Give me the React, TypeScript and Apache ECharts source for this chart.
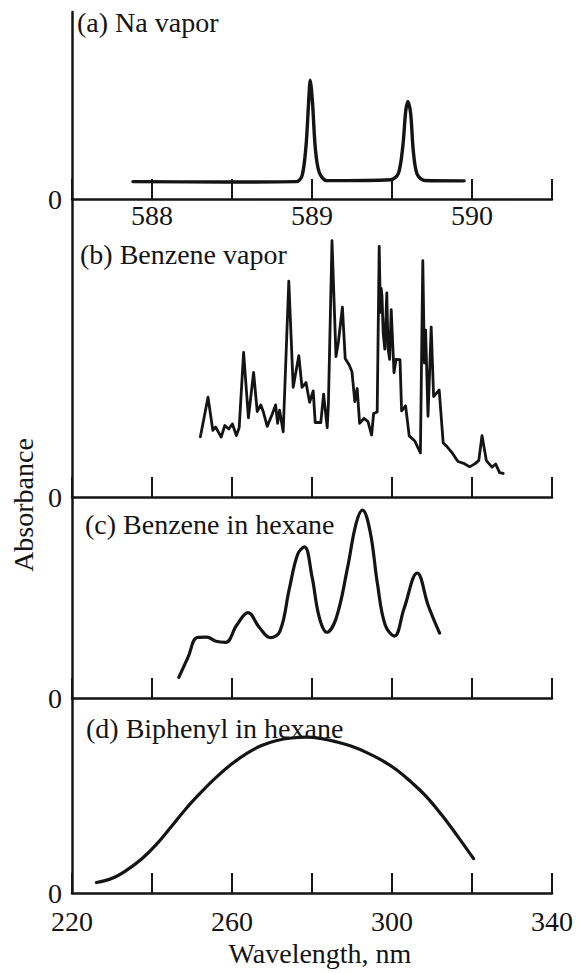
import React, { useEffect, useRef } from "react";
import * as echarts from "echarts";

// (a) Na vapor, wavelength in nm
const naWavelength = [587.881, 588.458, 588.904, 588.939, 588.963, 588.979, 588.989, 589.003, 589.021, 589.045, 589.092, 589.492, 589.539, 589.567, 589.586, 589.6, 589.617, 589.633, 589.657, 589.704, 589.951];
const naAbsorbance = [0.093, 0.091, 0.093, 0.128, 0.288, 0.519, 0.635, 0.518, 0.268, 0.143, 0.098, 0.103, 0.135, 0.277, 0.472, 0.522, 0.454, 0.258, 0.133, 0.099, 0.097];

// (b) Benzene vapor
const vaporWavelength = [252.1, 254.0, 255.2, 255.9, 257.3, 258.2, 259.2, 260.1, 261.1, 261.8, 262.9, 264.1, 265.4, 266.3, 267.2, 267.8, 268.8, 270.0, 270.9, 271.4, 271.9, 272.8, 274.2, 275.3, 276.7, 277.5, 278.5, 279.4, 280.3, 280.8, 282.2, 282.9, 283.8, 284.1, 285.0, 286.0, 286.6, 287.6, 288.3, 289.3, 290.0, 290.7, 291.3, 291.9, 293.0, 294.0, 294.9, 295.4, 296.3, 296.8, 297.1, 297.3, 297.5, 297.8, 298.2, 298.7, 299.0, 299.4, 299.8, 300.5, 301.0, 302.0, 302.4, 303.4, 304.3, 305.7, 307.1, 307.7, 308.1, 308.4, 309.0, 309.8, 310.4, 311.8, 312.8, 313.7, 315.1, 316.5, 317.9, 319.4, 320.8, 321.7, 322.5, 323.6, 325.0, 325.9, 326.9, 327.8];
const vaporAbsorbance = [0.202, 0.335, 0.224, 0.235, 0.201, 0.24, 0.228, 0.245, 0.206, 0.233, 0.485, 0.266, 0.418, 0.287, 0.309, 0.287, 0.237, 0.276, 0.309, 0.247, 0.291, 0.219, 0.724, 0.368, 0.474, 0.368, 0.384, 0.318, 0.356, 0.25, 0.25, 0.345, 0.233, 0.311, 0.86, 0.471, 0.521, 0.637, 0.465, 0.443, 0.42, 0.32, 0.364, 0.247, 0.264, 0.253, 0.208, 0.28, 0.285, 0.841, 0.62, 0.7, 0.674, 0.55, 0.496, 0.685, 0.5, 0.462, 0.629, 0.417, 0.462, 0.461, 0.289, 0.306, 0.205, 0.188, 0.148, 0.793, 0.45, 0.56, 0.271, 0.57, 0.337, 0.359, 0.181, 0.17, 0.147, 0.119, 0.113, 0.101, 0.112, 0.123, 0.206, 0.122, 0.1, 0.111, 0.082, 0.079];

// (c) Benzene in hexane
const hexaneWavelength = [246.7, 249.0, 251.3, 253.7, 256.0, 258.4, 261.2, 264.0, 266.8, 269.6, 272.0, 274.3, 276.4, 278.1, 280.0, 281.8, 283.7, 286.1, 288.9, 291.0, 292.6, 294.5, 296.4, 298.3, 300.6, 303.0, 306.3, 309.1, 311.9];
const hexaneAbsorbance = [0.103, 0.202, 0.301, 0.303, 0.282, 0.277, 0.363, 0.425, 0.352, 0.3, 0.333, 0.54, 0.714, 0.752, 0.604, 0.403, 0.327, 0.401, 0.65, 0.866, 0.935, 0.831, 0.563, 0.363, 0.308, 0.444, 0.622, 0.458, 0.323];

// (d) Biphenyl in hexane
const biphenylWavelength = [226.1, 229.9, 233.6, 237.4, 241.1, 244.9, 248.6, 252.4, 256.1, 259.9, 263.6, 267.4, 271.2, 274.9, 278.6, 282.4, 286.1, 289.9, 293.7, 297.4, 301.2, 304.9, 308.7, 312.4, 316.2, 320.4];
const biphenylAbsorbance = [0.054, 0.074, 0.116, 0.174, 0.249, 0.342, 0.435, 0.519, 0.594, 0.661, 0.715, 0.756, 0.782, 0.795, 0.799, 0.792, 0.775, 0.752, 0.72, 0.681, 0.631, 0.567, 0.492, 0.401, 0.297, 0.176];

const panelTitles = ["(a) Na vapor", "(b) Benzene vapor", "(c) Benzene in hexane", "(d) Biphenyl in hexane"];
const naTickLabels = [588, 589, 590];
const uvTickLabels = [220, 260, 300, 340];

const FONT = "'Liberation Serif', 'Times New Roman', serif";
const INK = "#141414";

const zip = (xs: number[], ys: number[]) => xs.map((x, i) => [x, ys[i]]);

export default function App() {
  const ref = useRef<HTMLDivElement>(null);

  useEffect(() => {
    if (!ref.current) return;
    const chart = echarts.init(ref.current, null, { renderer: "svg" });

    const grids = [
      { left: 72, top: 12, width: 480, height: 187 },
      { left: 72, top: 199, width: 480, height: 298 },
      { left: 72, top: 497, width: 480, height: 201 },
      { left: 72, top: 698, width: 480, height: 195 },
    ];

    const axisLine = { show: true, lineStyle: { color: INK, width: 2.5 } };
    const axisTick = { show: true, inside: true, length: 20, lineStyle: { color: INK, width: 2 } };

    const xAxes = grids.map((_, i) => {
      const isNa = i === 0;
      return {
        type: "value",
        gridIndex: i,
        min: isNa ? 587.5 : 220,
        max: isNa ? 590.5 : 340,
        interval: isNa ? 0.5 : 20,
        axisLine,
        axisTick,
        splitLine: { show: false },
        axisLabel: {
          show: i === 0 || i === 3,
          margin: isNa ? 5 : 17,
          fontSize: 28,
          lineHeight: 22,
          fontFamily: FONT,
          color: INK,
          showMinLabel: true,
          showMaxLabel: true,
          formatter: (v: number) => {
            const r = Math.round(v * 10) / 10;
            if (isNa) return naTickLabels.includes(r) ? String(r) : "";
            return uvTickLabels.includes(r) ? String(r) : "";
          },
        },
      };
    });

    // only the zero of each panel is labelled
    const zeroPad = [
      [10, 0, 0, 0],
      [14, 0, 0, 0],
      [14, 0, 0, 0],
      [0, 0, 12, 0],
    ];
    const yAxes = grids.map((_, i) => ({
      type: "value",
      gridIndex: i,
      min: 0,
      max: 1,
      interval: 1,
      axisLine,
      axisTick: { show: false },
      splitLine: { show: false },
      axisLabel: {
        show: true,
        margin: 10,
        fontSize: 28,
        lineHeight: 22,
        fontFamily: FONT,
        color: INK,
        padding: zeroPad[i],
        formatter: (v: number) => (v === 0 ? "0" : ""),
      },
    }));

    const lineSeries = (i: number, data: number[][], smooth: number | boolean, width: number) => ({
      type: "line",
      xAxisIndex: i,
      yAxisIndex: i,
      data,
      smooth,
      showSymbol: false,
      symbol: "none",
      lineStyle: { color: INK, width, join: "round", cap: "round" },
    });

    const titlePos = [
      { x: 77, y: 22 },
      { x: 80, y: 254 },
      { x: 85, y: 524 },
      { x: 86, y: 728 },
    ];

    chart.setOption({
      animation: false,
      backgroundColor: "#ffffff",
      grid: grids,
      xAxis: xAxes,
      yAxis: yAxes,
      series: [
        lineSeries(0, zip(naWavelength, naAbsorbance), 0.3, 3.4),
        lineSeries(1, zip(vaporWavelength, vaporAbsorbance), false, 2.8),
        lineSeries(2, zip(hexaneWavelength, hexaneAbsorbance), 0.4, 3.2),
        lineSeries(3, zip(biphenylWavelength, biphenylAbsorbance), 0.4, 3.2),
      ],
      graphic: [
        ...panelTitles.map((t, i) => ({
          type: "text",
          x: titlePos[i].x,
          y: titlePos[i].y,
          style: {
            text: t,
            font: `28px ${FONT}`,
            fill: INK,
            verticalAlign: "middle",
          },
        })),
        {
          type: "text",
          x: 23,
          y: 505,
          rotation: Math.PI / 2,
          style: {
            text: "Absorbance",
            font: `28px ${FONT}`,
            fill: INK,
            align: "center",
            verticalAlign: "middle",
          },
        },
        {
          type: "text",
          x: 320,
          y: 953,
          style: {
            text: "Wavelength, nm",
            font: `28px ${FONT}`,
            fill: INK,
            align: "center",
            verticalAlign: "middle",
          },
        },
      ],
    });

    return () => chart.dispose();
  }, []);

  return (
    <div
      ref={ref}
      style={{ position: "fixed", left: 0, top: 0, width: 584, height: 973, background: "#fff" }}
    />
  );
}
